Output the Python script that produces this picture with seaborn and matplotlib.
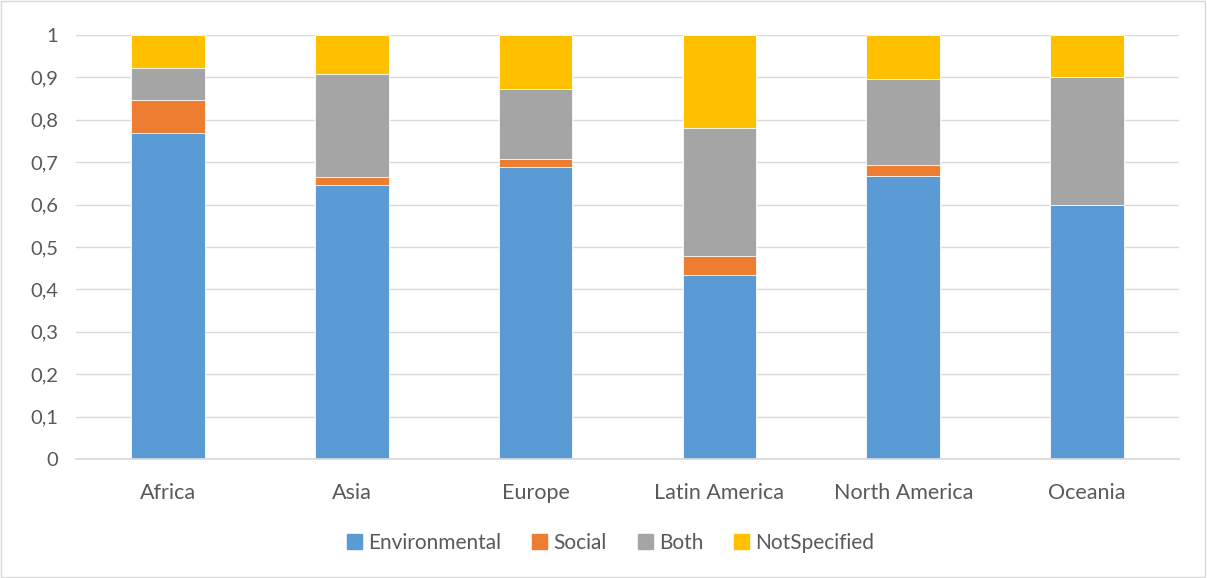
"""Stacked share of project types by region."""

import matplotlib.pyplot as plt
import matplotlib.patches as mpatches
import numpy as np
import pandas as pd
import seaborn as sns

regions = ['Africa', 'Asia', 'Europe', 'Latin America', 'North America', 'Oceania']
environmental = [0.769, 0.647, 0.689, 0.434, 0.667, 0.600]
social = [0.077, 0.017, 0.019, 0.045, 0.026, 0.000]
both = [0.077, 0.243, 0.164, 0.302, 0.203, 0.300]
not_specified = [0.077, 0.093, 0.128, 0.219, 0.104, 0.100]

series_names = ['Environmental', 'Social', 'Both', 'NotSpecified']
colors = ['#5b9bd5', '#ed7d31', '#a5a5a5', '#ffc000']
ytick_values = [0, 0.1, 0.2, 0.3, 0.4, 0.5, 0.6, 0.7, 0.8, 0.9, 1.0]

sns.set_theme(style='white')
plt.rcParams['font.family'] = ['Lato', 'DejaVu Sans']

# cumulative tops for stacking, drawn back to front
stack = np.cumsum(np.array([environmental, social, both, not_specified]), axis=0)
df = pd.DataFrame(stack.T, columns=series_names)
df['region'] = regions

fig = plt.figure(figsize=(12.07, 5.78), dpi=100)
ax = fig.add_axes([76 / 1207, 1 - 459 / 578, (1179 - 76) / 1207, (459 - 35) / 578])

for name, color in reversed(list(zip(series_names, colors))):
    sns.barplot(data=df, x='region', y=name, color=color, width=0.4,
                saturation=1, edgecolor='white', linewidth=0.6, ax=ax)

ax.set_ylim(0, 1)
ax.set_xlim(-0.5, len(regions) - 0.5)
ax.set_yticks(ytick_values)
ax.set_yticklabels([f'{v:g}'.replace('.', ',') for v in ytick_values])
ax.yaxis.grid(True, color='#d9d9d9', linewidth=1)
ax.set_axisbelow(True)
ax.set(xlabel='', ylabel='')
for side in ['top', 'right', 'left']:
    ax.spines[side].set_visible(False)
ax.spines['bottom'].set_color('#d9d9d9')
ax.tick_params(axis='x', length=0, pad=17, labelsize=15.5, labelcolor='#595959')
ax.tick_params(axis='y', length=0, pad=13, labelsize=14.5, labelcolor='#595959')

handles = [mpatches.Patch(color=c, label=n) for n, c in zip(series_names, colors)]
fig.legend(handles=handles, loc='center', bbox_to_anchor=(0.506, 1 - 543 / 578),
           ncol=4, frameon=False, fontsize=15, handlelength=0.7,
           handleheight=0.7, handletextpad=0.3, columnspacing=1.5,
           labelcolor='#595959')

# chart area border
fig.patches.append(mpatches.Rectangle((0.0005, 0.001), 0.998, 0.997,
                                      transform=fig.transFigure, fill=False,
                                      edgecolor='#d9d9d9', linewidth=1))

plt.savefig('out.png', dpi=100)
